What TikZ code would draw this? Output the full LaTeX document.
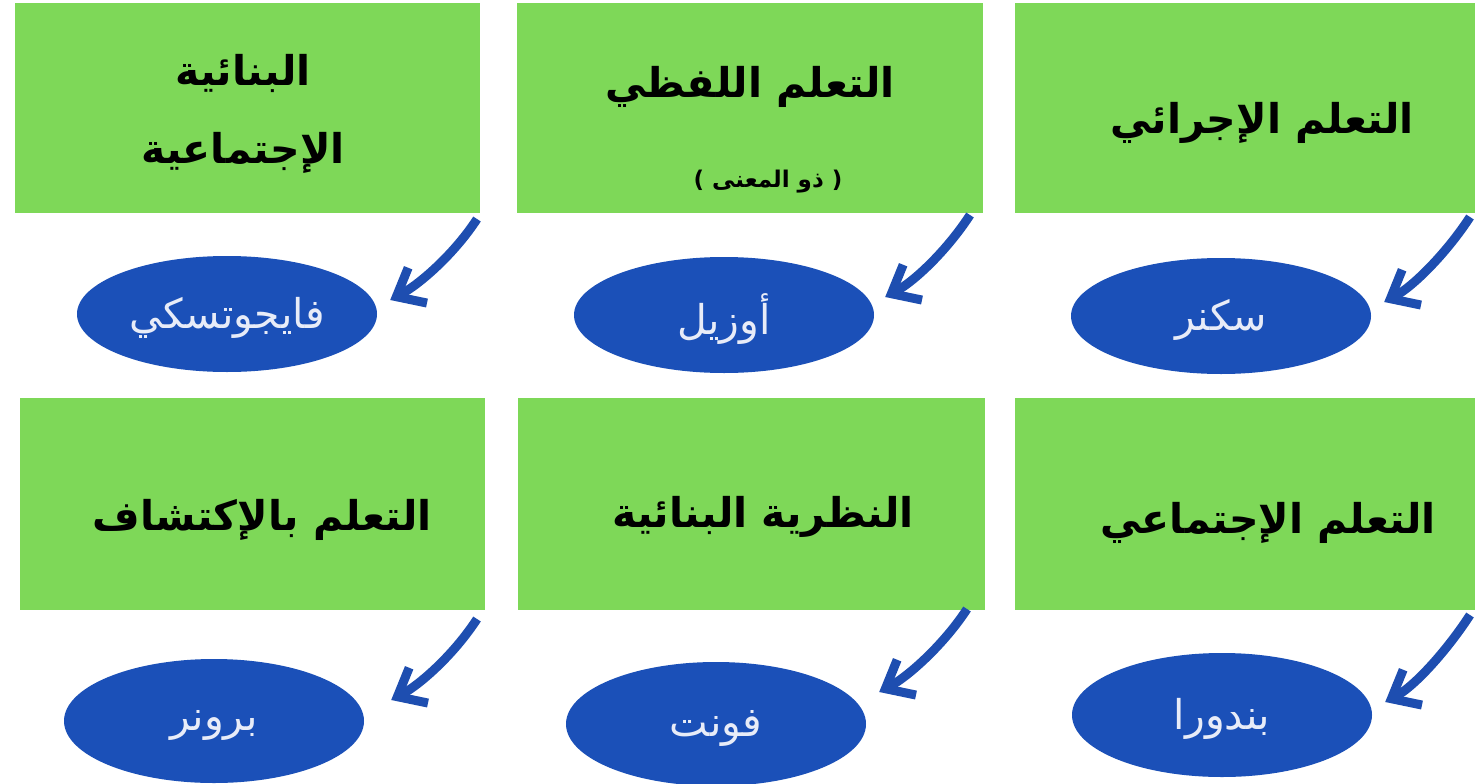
\documentclass[tikz,border=0pt]{standalone}
\usepackage{fontspec}
\usetikzlibrary{shapes.geometric,arrows.meta,calc}
\TeXXeTstate=1
\newfontfamily\arabicfont[Script=Arabic]{DejaVu Sans}
\newfontfamily\arabicbold[Script=Arabic]{DejaVu Sans Bold}
\definecolor{boxgreen}{RGB}{126,216,88}
\definecolor{ellblue}{RGB}{27,80,184}
\definecolor{arrblue}{RGB}{30,78,176}
\definecolor{elltext}{RGB}{232,236,248}
\tikzset{
  greenbox/.style={rectangle, fill=boxgreen, draw=none, inner sep=0pt},
  bluell/.style={ellipse, fill=ellblue, draw=none, inner sep=0pt, minimum width=300pt, minimum height=116pt},
  boxtext/.style={text=black, font=\arabicbold\fontsize{41}{50}\selectfont, align=center, inner sep=0pt},
  smalltext/.style={text=black, font=\arabicbold\fontsize{23}{28}\selectfont, inner sep=0pt},
  elltextstyle/.style={text=elltext, font=\arabicfont\fontsize{41}{48}\selectfont, inner sep=0pt},
  arr/.style={draw=arrblue, line width=9pt, -{Straight Barb[length=24pt,width=40pt]}},
}
\begin{document}
\begin{tikzpicture}[x=1pt,y=-1pt]
\useasboundingbox (0,0) rectangle (1475,784);
\fill[white] (0,0) rectangle (1475,784);
% green boxes
\node[greenbox, minimum width=465pt, minimum height=210pt] (b1) at (247.5,108) {};
\node[greenbox, minimum width=466pt, minimum height=210pt] (b2) at (750,108) {};
\node[greenbox, minimum width=460pt, minimum height=210pt] (b3) at (1245,108) {};
\node[greenbox, minimum width=465pt, minimum height=212pt] (b4) at (252.5,504) {};
\node[greenbox, minimum width=467pt, minimum height=212pt] (b5) at (751.5,504) {};
\node[greenbox, minimum width=460pt, minimum height=212pt] (b6) at (1245,504) {};
% box texts
\node[boxtext] (t1a) at (243,73) {\beginR البنائية\endR};
\node[boxtext] (t1b) at (243,153) {\beginR الإجتماعية\endR};
\node[boxtext] (t2) at (750,87) {\beginR التعلم اللفظي\endR};
\node[smalltext] (t2b) at (768,182) {\beginR( ذو المعنى )\endR};
\node[boxtext] (t3) at (1262,123) {\beginR التعلم الإجرائي\endR};
\node[boxtext] (t4) at (262,520) {\beginR التعلم بالإكتشاف\endR};
\node[boxtext] (t5) at (763,517) {\beginR النظرية البنائية\endR};
\node[boxtext] (t6) at (1268,523) {\beginR التعلم الإجتماعي\endR};
% ellipses
\node[bluell] (e1) at (227,314) {};
\node[bluell] (e2) at (724,315) {};
\node[bluell] (e3) at (1221,316) {};
\node[bluell, minimum height=124pt] (e4) at (214,721) {};
\node[bluell, minimum height=124pt] (e5) at (716,724) {};
\node[bluell, minimum height=124pt] (e6) at (1222,715) {};
\node[elltextstyle] at ($(e1)+(0,4)$) {\beginR فايجوتسكي\endR};
\node[elltextstyle] at ($(e2)+(0,4)$) {\beginR أوزيل\endR};
\node[elltextstyle] at ($(e3)+(0,4)$) {\beginR سكنر\endR};
\node[elltextstyle] at ($(e4)+(0,4)$) {\beginR برونر\endR};
\node[elltextstyle] at ($(e5)+(0,4)$) {\beginR فونت\endR};
\node[elltextstyle] at ($(e6)+(0,4)$) {\beginR بندورا\endR};
% arrow start points
\coordinate (s1) at (477,219);
\coordinate (s2) at (970,215);
\coordinate (s3) at (1470,217);
\coordinate (s4) at (477,619);
\coordinate (s5) at (967,609);
\coordinate (s6) at (1470,615);
% arrows
\draw[arr] (s1) .. controls +(-22,34) and +(30,-16) .. ($(e1.east)+(13,-14)$);
\draw[arr] (s2) .. controls +(-22,34) and +(30,-16) .. ($(e2.east)+(11,-18)$);
\draw[arr] (s3) .. controls +(-22,34) and +(30,-16) .. ($(e3.east)+(13,-14)$);
\draw[arr] (s4) .. controls +(-22,34) and +(30,-16) .. ($(e4.east)+(27,-21)$);
\draw[arr] (s5) .. controls +(-22,34) and +(30,-16) .. ($(e5.east)+(13,-32)$);
\draw[arr] (s6) .. controls +(-22,34) and +(30,-16) .. ($(e6.east)+(13,-13)$);
\end{tikzpicture}
\end{document}
